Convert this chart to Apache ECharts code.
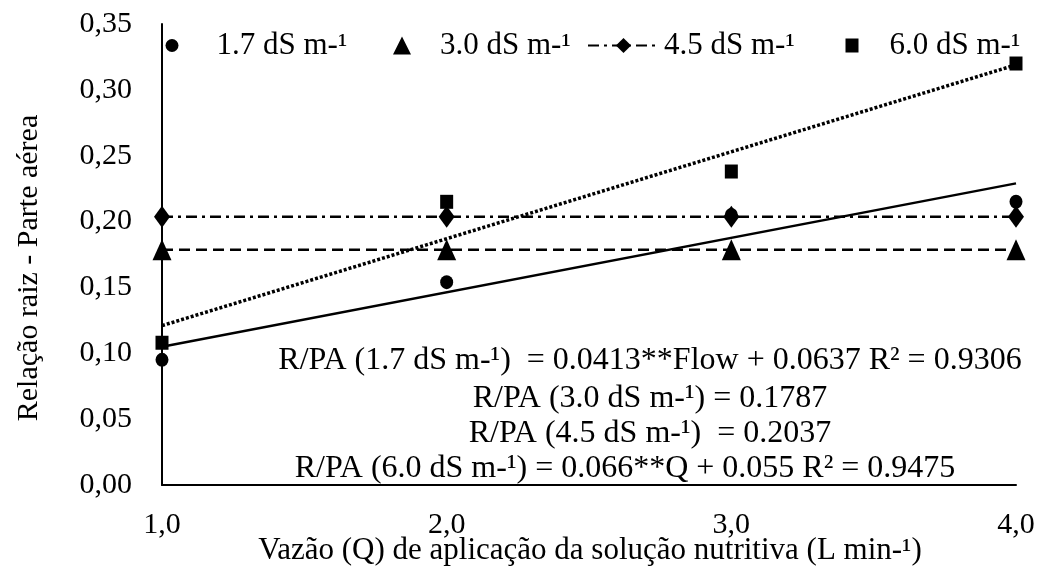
<!DOCTYPE html>
<html>
<head>
<meta charset="utf-8">
<script src="https://cdn.jsdelivr.net/npm/echarts@6/dist/echarts.min.js"></script>
<style>html,body{margin:0;padding:0;background:#fff}#c{width:1040px;height:567px}</style>
</head>
<body>
<div id="c"></div>
<script>
// Data
var flowX = [1, 2, 3, 4];
var ec17 = [0.095, 0.154, 0.205, 0.215];
var ec30 = [0.1787, 0.1787, 0.1787, 0.1787];
var ec45 = [0.2037, 0.2037, 0.2037, 0.2037];
var ec60 = [0.108, 0.215, 0.238, 0.320];
// fitted trend line end points (x = 1 and x = 4)
var trendX = [1, 4];
var trend17 = [0.105, 0.229];
var trend30 = [0.1787, 0.1787];
var trend60 = [0.121, 0.319];
var seriesNames = ['1.7 dS m-¹', '3.0 dS m-¹', '4.5 dS m-¹', '6.0 dS m-¹'];
var equations = [
  'R/PA (1.7 dS m-¹)  = 0.0413**Flow + 0.0637 R² = 0.9306',
  'R/PA (3.0 dS m-¹) = 0.1787',
  'R/PA (4.5 dS m-¹)  = 0.2037',
  'R/PA (6.0 dS m-¹) = 0.066**Q + 0.055 R² = 0.9475'
];
var yTitle = 'Relação raiz - Parte aérea';
var xTitle = 'Vazão (Q) de aplicação da solução nutritiva (L min-¹)';

function pairs(xs, ys) { return xs.map(function (x, i) { return [x, ys[i]]; }); }

var FONT = '"Liberation Serif", "Times New Roman", serif';
var chart = echarts.init(document.getElementById('c'), null, {renderer: 'canvas'});

function mkLegend(name, left, w, h, pad) {
  return {
    data: [name], left: left, top: 30, padding: 0, itemWidth: w, itemHeight: h,
    selectedMode: false, orient: 'horizontal',
    textStyle: {fontFamily: FONT, fontSize: 31, color: '#000', padding: [0, 0, 0, pad]}
  };
}

var eqX = [650, 650, 650, 625];
var eqY = [361, 399, 434, 469];

var option = {
  animation: false,
  backgroundColor: '#fff',
  grid: {left: 162, right: 24, top: 24, bottom: 82, containLabel: false, outerBoundsMode: 'none'},
  legend: [
    mkLegend(seriesNames[0], 165.5, 13, 14, 33),
    mkLegend(seriesNames[1], 393, 18, 18, 24),
    mkLegend(seriesNames[2], 587, 71, 19, 0),
    mkLegend(seriesNames[3], 845.5, 13, 14, 26)
  ],
  xAxis: {
    type: 'value', min: 1, max: 4, interval: 1,
    axisLine: {show: true, lineStyle: {color: '#000', width: 2}},
    axisTick: {show: false}, splitLine: {show: false},
    axisLabel: {fontFamily: FONT, fontSize: 30, color: '#000', margin: 25,
      formatter: function (v) { return v.toFixed(1).replace('.', ','); }}
  },
  yAxis: {
    type: 'value', min: 0, max: 0.35, interval: 0.05,
    axisLine: {show: true, lineStyle: {color: '#000', width: 2}},
    axisTick: {show: false}, splitLine: {show: false},
    axisLabel: {fontFamily: FONT, fontSize: 30, color: '#000', margin: 30,
      formatter: function (v) { return v.toFixed(2).replace('.', ','); }}
  },
  series: [
    {name: 'trend17', type: 'line', data: pairs(trendX, trend17), symbol: 'none', silent: true,
      lineStyle: {color: '#000', width: 2.5, type: 'solid'}, z: 1},
    {name: 'trend30', type: 'line', data: pairs(trendX, trend30), symbol: 'none', silent: true,
      lineStyle: {color: '#000', width: 2.5, type: [11, 6]}, z: 1},
    {name: 'trend60', type: 'line', data: pairs(trendX, trend60), symbol: 'none', silent: true,
      lineStyle: {color: '#000', width: 3.5, type: [3, 2]}, z: 1},
    {name: seriesNames[2], type: 'line', data: pairs(flowX, ec45), symbol: 'diamond', symbolSize: [16, 22],
      itemStyle: {color: '#000', opacity: 1}, lineStyle: {color: '#000', width: 2.5, type: [11, 5, 3, 5]}, z: 2},
    {name: seriesNames[0], type: 'scatter', data: pairs(flowX, ec17), symbol: 'circle', symbolSize: [13, 14],
      itemStyle: {color: '#000', opacity: 1}, z: 3},
    {name: seriesNames[1], type: 'scatter', data: pairs(flowX, ec30), symbol: 'triangle', symbolSize: [19, 21],
      itemStyle: {color: '#000', opacity: 1}, z: 3},
    {name: seriesNames[3], type: 'scatter', data: pairs(flowX, ec60), symbol: 'rect', symbolSize: [13, 14],
      itemStyle: {color: '#000', opacity: 1}, z: 3}
  ],
  graphic: equations.map(function (t, i) {
    return {type: 'text', z: 10,
      style: {text: t, x: eqX[i], y: eqY[i], fontFamily: FONT, fontSize: 32, fill: '#000',
        textAlign: 'center', textVerticalAlign: 'middle'}};
  }).concat([{
    type: 'text', z: 10, x: 29, y: 268, rotation: Math.PI / 2,
    style: {text: yTitle, x: 0, y: 0, fontFamily: FONT, fontSize: 30, fill: '#000',
      textAlign: 'center', textVerticalAlign: 'middle'}
  }, {
    type: 'text', z: 10, x: 590, y: 551,
    style: {text: xTitle, x: 0, y: 0, fontFamily: FONT, fontSize: 31, fill: '#000',
      textAlign: 'center', textVerticalAlign: 'middle'}
  }])
};
chart.setOption(option);
</script>
</body>
</html>
